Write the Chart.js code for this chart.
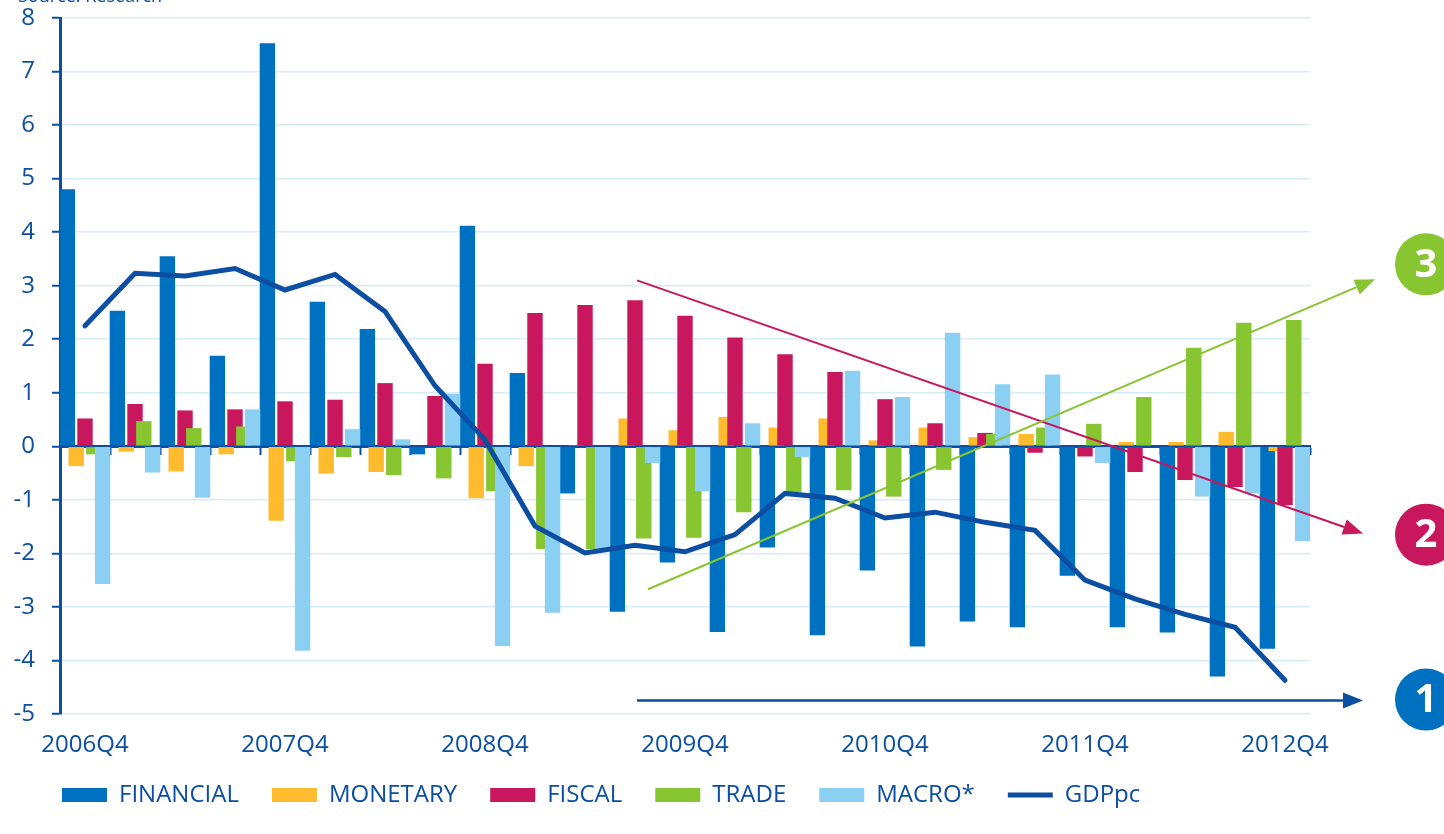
<!DOCTYPE html>
<html>
<head>
<meta charset="utf-8">
<script src="https://cdn.jsdelivr.net/npm/chart.js@4.4.1/dist/chart.umd.min.js"></script>
<style>
  html, body { margin: 0; padding: 0; background: #fff; }
  #wrap { width: 1444px; height: 834px; }
</style>
</head>
<body>
<div id="wrap"><canvas id="chart" width="1444" height="834"></canvas></div>
<script>
// quarters shown on the x axis (labels printed every 4th)
const quarters = [
    '2006Q4', '2007Q1', '2007Q2', '2007Q3', '2007Q4', '2008Q1', '2008Q2', '2008Q3',
    '2008Q4', '2009Q1', '2009Q2', '2009Q3', '2009Q4', '2010Q1', '2010Q2', '2010Q3',
    '2010Q4', '2011Q1', '2011Q2', '2011Q3', '2011Q4', '2012Q1', '2012Q2', '2012Q3', '2012Q4'
];

const financial = [4.80, 2.53, 3.55, 1.69, 7.53, 2.70, 2.19, -0.15, 4.12, 1.37, -0.88, -3.09, -2.17,
    -3.47, -1.89, -3.53, -2.32, -3.74, -3.27, -3.38, -2.42, -3.38, -3.48, -4.30, -3.78];
const monetary = [-0.37, -0.10, -0.47, -0.15, -1.39, -0.51, -0.48, 0, -0.97, -0.37, 0.02, 0.52, 0.30,
    0.55, 0.35, 0.52, 0.11, 0.35, 0.17, 0.23, 0, 0.08, 0.08, 0.27, -0.09];
const fiscal = [0.52, 0.79, 0.67, 0.69, 0.84, 0.87, 1.18, 0.94, 1.54, 2.49, 2.64, 2.73, 2.44,
    2.03, 1.72, 1.39, 0.88, 0.43, 0.25, -0.12, -0.19, -0.48, -0.63, -0.76, -1.10];
const trade = [-0.15, 0.47, 0.34, 0.37, -0.28, -0.20, -0.54, -0.60, -0.84, -1.92, -1.92, -1.72, -1.71,
    -1.23, -0.86, -0.82, -0.94, -0.44, 0.23, 0.35, 0.42, 0.92, 1.84, 2.31, 2.36];
const macro = [-2.57, -0.49, -0.96, 0.69, -3.82, 0.32, 0.13, 0.98, -3.73, -3.11, -1.92, -0.31, -0.84,
    0.43, -0.20, 1.41, 0.92, 2.12, 1.16, 1.34, -0.31, 0, -0.94, -0.88, -1.77];
const gdppc = [2.25, 3.23, 3.18, 3.32, 2.92, 3.21, 2.52, 1.13, 0.12, -1.49, -1.99, -1.85, -1.97,
    -1.65, -0.88, -0.97, -1.34, -1.23, -1.42, -1.57, -2.50, -2.85, -3.14, -3.38, -4.37];

// trend arrows and numbered markers, in (category index, value) units
const arrowFrom = [[11.04, 3.10], [11.26, -2.67], [11.04, -4.75]];
const arrowTo = [[25.56, -1.63], [25.80, 3.12], [25.56, -4.75]];
const markerAt = [[26.82, 3.40], [26.82, -1.65], [26.82, -4.73]];
const markerText = ['3', '2', '1'];

const DARK = '#0b4ea2';
const GRID = '#d5edf8';
const BLUE = '#0070c0';
const YELLOW = '#fdbb2d';
const RED = '#c8175d';
const GREEN = '#87c531';
const LIGHT = '#8bd0f2';
const FONT = '"Open Sans", sans-serif';
const arrowColors = [RED, GREEN, DARK];
const markerColors = [GREEN, RED, BLUE];

// draw datasets first-to-last so later series sit on top
const drawInOrder = {
    id: 'drawInOrder',
    afterLayout(chart) {
        // legend starts under the first bar and sits a bit higher
        if (chart.legend) {
            chart.legend.left += 29;
            chart.legend.top -= 11;
            chart.legend.bottom -= 11;
        }
    },
    beforeDatasetsDraw(chart) {
        const { ctx, chartArea: a } = chart;
        ctx.save();
        ctx.beginPath();
        ctx.rect(a.left, a.top, a.width, a.height);
        ctx.clip();
        chart.getSortedVisibleDatasetMetas().forEach(meta => meta.controller.draw());
        ctx.restore();
        return false;
    }
};

const annotations = {
    id: 'annotations',
    afterDraw(chart) {
        const { ctx } = chart;
        const xs = chart.scales.x, ys = chart.scales.y;
        const pt = p => [xs.getPixelForValue(p[0]), ys.getPixelForValue(p[1])];

        ctx.save();
        arrowFrom.forEach((from, i) => {
            const [x0, y0] = pt(from);
            const [x1, y1] = pt(arrowTo[i]);
            const ang = Math.atan2(y1 - y0, x1 - x0);
            const len = 20, half = 8;
            const bx = x1 - len * Math.cos(ang), by = y1 - len * Math.sin(ang);
            ctx.strokeStyle = arrowColors[i];
            ctx.fillStyle = arrowColors[i];
            ctx.lineWidth = i === 2 ? 2.5 : 2;
            ctx.beginPath();
            ctx.moveTo(x0, y0);
            ctx.lineTo(bx, by);
            ctx.stroke();
            ctx.beginPath();
            ctx.moveTo(x1, y1);
            ctx.lineTo(bx + half * Math.sin(ang), by - half * Math.cos(ang));
            ctx.lineTo(bx - half * Math.sin(ang), by + half * Math.cos(ang));
            ctx.closePath();
            ctx.fill();
        });

        markerAt.forEach((m, i) => {
            const [cx, cy] = pt(m);
            ctx.fillStyle = markerColors[i];
            ctx.beginPath();
            ctx.arc(cx, cy, 31, 0, Math.PI * 2);
            ctx.fill();
            ctx.fillStyle = '#fff';
            ctx.font = 'bold 40px ' + FONT;
            ctx.textAlign = 'center';
            ctx.textBaseline = 'middle';
            ctx.fillText(markerText[i], cx, cy + 1);
        });

        ctx.fillStyle = DARK;
        ctx.font = '18px ' + FONT;
        ctx.textAlign = 'left';
        ctx.textBaseline = 'alphabetic';
        ctx.fillText('Source: Research', 18, 2);
        ctx.restore();
    }
};

const barStyle = { categoryPercentage: 0.88, barPercentage: 1.75, borderWidth: 0 };

new Chart(document.getElementById('chart'), {
    type: 'bar',
    data: {
        labels: quarters,
        datasets: [
            { label: 'FINANCIAL', data: financial, backgroundColor: BLUE, ...barStyle },
            { label: 'MONETARY', data: monetary, backgroundColor: YELLOW, ...barStyle },
            { label: 'FISCAL', data: fiscal, backgroundColor: RED, ...barStyle },
            { label: 'TRADE', data: trade, backgroundColor: GREEN, ...barStyle },
            { label: 'MACRO*', data: macro, backgroundColor: LIGHT, ...barStyle },
            {
                type: 'line', label: 'GDPpc', data: gdppc,
                borderColor: DARK, backgroundColor: DARK, borderWidth: 5,
                borderCapStyle: 'round', pointRadius: 0, tension: 0
            }
        ]
    },
    options: {
        responsive: false,
        animation: false,
        devicePixelRatio: 1,
        layout: { padding: { left: 0, right: 134, top: 18, bottom: 6 } },
        scales: {
            x: {
                grid: { display: false, drawTicks: false },
                border: { display: false },
                ticks: {
                    autoSkip: false, maxRotation: 0, minRotation: 0, padding: 17,
                    color: DARK, font: { size: 24, family: FONT },
                    callback: (v, i) => (i % 4 === 0 ? quarters[i] : '')
                },
                afterFit: s => { s.height = 47; }
            },
            x2: {
                type: 'category',
                axis: 'x',
                position: { y: 0 },
                offset: true,
                z: 1,
                grid: { offset: true, drawOnChartArea: false, tickLength: 7, tickWidth: 2, tickColor: DARK },
                border: { color: DARK, width: 3 },
                ticks: { display: false }
            },
            y: {
                min: -5,
                max: 8,
                ticks: { stepSize: 1, padding: 17, color: DARK, font: { size: 24, family: FONT } },
                grid: { color: GRID, lineWidth: 1.5, tickColor: DARK, tickLength: 8, tickWidth: 2 },
                border: { color: DARK, width: 3 },
                afterFit: s => {
                    s.width = 60;
                    s.paddingTop = 0;
                    s.paddingBottom = 0;
                }
            }
        },
        plugins: {
            tooltip: { enabled: false },
            legend: {
                position: 'bottom',
                align: 'start',
                labels: {
                    usePointStyle: true,
                    pointStyleWidth: 45,
                    boxHeight: 14,
                    padding: 33,
                    color: DARK,
                    font: { size: 24, family: FONT },
                    sort: (a, b) => a.datasetIndex - b.datasetIndex,
                    generateLabels: chart => {
                        const items = Chart.defaults.plugins.legend.labels.generateLabels(chart);
                        items.forEach(it => {
                            it.pointStyle = chart.data.datasets[it.datasetIndex].type === 'line' ? 'line' : 'rect';
                        });
                        return items;
                    }
                }
            }
        }
    },
    plugins: [drawInOrder, annotations]
});
</script>
</body>
</html>
